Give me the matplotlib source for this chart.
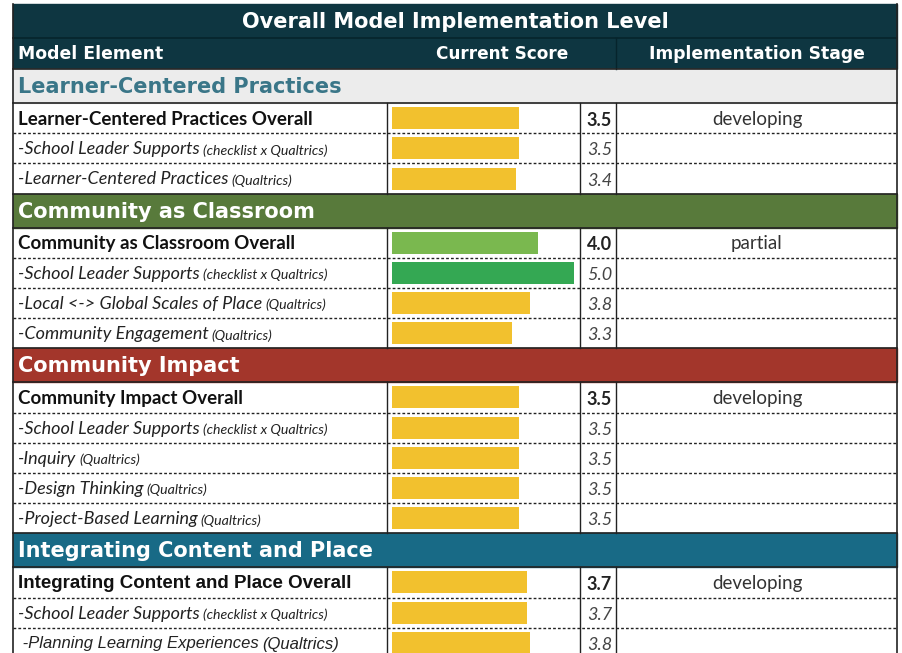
import matplotlib.pyplot as plt
from matplotlib.patches import Rectangle

W, H = 903, 653

title = "Overall Model Implementation Level"
col_headers = ["Model Element", "Current Score", "Implementation Stage"]

section_names = ["Learner-Centered Practices", "Community as Classroom",
                 "Community Impact", "Integrating Content and Place"]
section_sizes = [3, 4, 5, 3]

row_labels = ["Learner-Centered Practices Overall",
              "-School Leader Supports", "-Learner-Centered Practices",
              "Community as Classroom Overall",
              "-School Leader Supports", "-Local <-> Global Scales of Place",
              "-Community Engagement",
              "Community Impact Overall",
              "-School Leader Supports", "-Inquiry", "-Design Thinking",
              "-Project-Based Learning",
              "Integrating Content and Place Overall",
              "-School Leader Supports", " -Planning Learning Experiences"]
row_sources = ["", "(checklist x Qualtrics)", "(Qualtrics)",
               "", "(checklist x Qualtrics)", "(Qualtrics)", "(Qualtrics)",
               "", "(checklist x Qualtrics)", "(Qualtrics)", "(Qualtrics)", "(Qualtrics)",
               "", "(checklist x Qualtrics)", "(Qualtrics)"]
row_scores = [3.5, 3.5, 3.4,
              4.0, 5.0, 3.8, 3.3,
              3.5, 3.5, 3.5, 3.5, 3.5,
              3.7, 3.7, 3.8]
row_stages = ["developing", "", "",
              "partial", "", "", "",
              "developing", "", "", "", "",
              "developing", "", ""]

# look
sec_bg = ["#ececec", "#587a3b", "#a3362b", "#186a86"]
sec_fg = ["#3a7688", "white", "white", "white"]
dark = "#0e3641"
arial_rows = {12, 14}   # these rows were typed in Arial in the sheet
head_font = "DejaVu Sans"
body_font = "Lato"

x0, x1 = 13, 897
c_bar, c_score, c_stage = 387, 580, 616
bar_left, px_per_pt = 392, 36.4
row_h, sec_h = 30.2, 34


def bar_color(v):
    if v >= 4.5:
        return "#34a853"
    if v >= 4.0:
        return "#7ab84f"
    return "#f2c12e"


fig = plt.figure(figsize=(W / 100, H / 100), dpi=100)
ax = fig.add_axes([0, 0, 1, 1])
ax.set_xlim(0, W)
ax.set_ylim(H, 0)
ax.axis("off")
renderer = fig.canvas.get_renderer()

# title and column header
ax.add_patch(Rectangle((x0, 4), x1 - x0, 65, color=dark, zorder=1))
ax.text((x0 + x1) / 2, 21.5, title, ha="center", va="center", color="white",
        fontsize=15, fontweight="bold", family=head_font)
ax.plot([x0, x1], [38, 38], color="#06242c", lw=1.2)
ax.plot([c_stage, c_stage], [38, 69], color="#06242c", lw=1)
ax.text(18, 54, col_headers[0], ha="left", va="center", color="white",
        fontsize=12.4, fontweight="bold", family=head_font)
ax.text(502, 54, col_headers[1], ha="center", va="center", color="white",
        fontsize=12.2, fontweight="bold", family=head_font)
ax.text(757, 54, col_headers[2], ha="center", va="center", color="white",
        fontsize=12.3, fontweight="bold", family=head_font)

y = 69
centers = []
r = 0
for s, name in enumerate(section_names):
    ax.add_patch(Rectangle((x0, y), x1 - x0, sec_h, color=sec_bg[s], zorder=1))
    ax.plot([x0, x1], [y, y], color="#222222", lw=1.2, zorder=3)
    ax.text(18, y + sec_h / 2 + 1, name, ha="left", va="center", color=sec_fg[s],
            fontsize=15, fontweight="bold", family=head_font, zorder=4)
    y += sec_h
    ax.plot([x0, x1], [y, y], color="#222222", lw=1.2, zorder=3)
    top = y
    for k in range(section_sizes[s]):
        cy = y + row_h / 2
        ty = cy + 1
        centers.append(cy)
        overall = k == 0
        arial = r in arial_rows
        fam = "Liberation Sans" if arial else body_font
        if overall:
            t = ax.text(18, ty, row_labels[r], ha="left", va="center",
                        color="#111111", fontsize=13.5,
                        fontweight="bold", family=fam)
        else:
            t = ax.text(18, ty, row_labels[r], ha="left", va="center",
                        color="#222222", fontsize=12 if arial else 13,
                        style="italic", family=fam)
            if row_sources[r]:
                bb = t.get_window_extent(renderer)
                ax.text(bb.x1 + 3, ty + 1, row_sources[r], ha="left", va="center",
                        color="#222222", style="italic", family=fam,
                        fontsize=12 if arial else 10.2)
        ax.text(612, ty + 1, f"{row_scores[r]:.1f}", ha="right", va="center",
                color="#222222" if overall else "#444444",
                fontsize=13, family=body_font,
                fontweight="bold" if overall else "normal",
                style="normal" if overall else "italic")
        if row_stages[r]:
            ax.text(757, ty, row_stages[r], ha="center", va="center",
                    color="#333333", fontsize=13.5, family=body_font)
        y += row_h
        if k < section_sizes[s] - 1:
            ax.plot([x0, x1], [y, y], color="#222222", lw=1,
                    linestyle=(0, (2, 1.5)), zorder=3)
        r += 1
    for cx in (c_bar, c_score, c_stage):
        ax.plot([cx, cx], [top, y], color="#222222", lw=1, zorder=3)

ax.plot([x0, x0], [4, H], color="#222222", lw=1.2, zorder=5)
ax.plot([x1, x1], [4, H], color="#222222", lw=1.2, zorder=5)

# data bars on their own 0-5 scale, aligned with the table rows
bar_ax = fig.add_axes([bar_left / W, 0, 5 * px_per_pt / W, 1])
bar_ax.set_xlim(0, 5)
bar_ax.set_ylim(H, 0)
bar_ax.axis("off")
bar_ax.barh(centers, row_scores, height=22,
            color=[bar_color(v) for v in row_scores])

fig.savefig("out.png", dpi=100)
